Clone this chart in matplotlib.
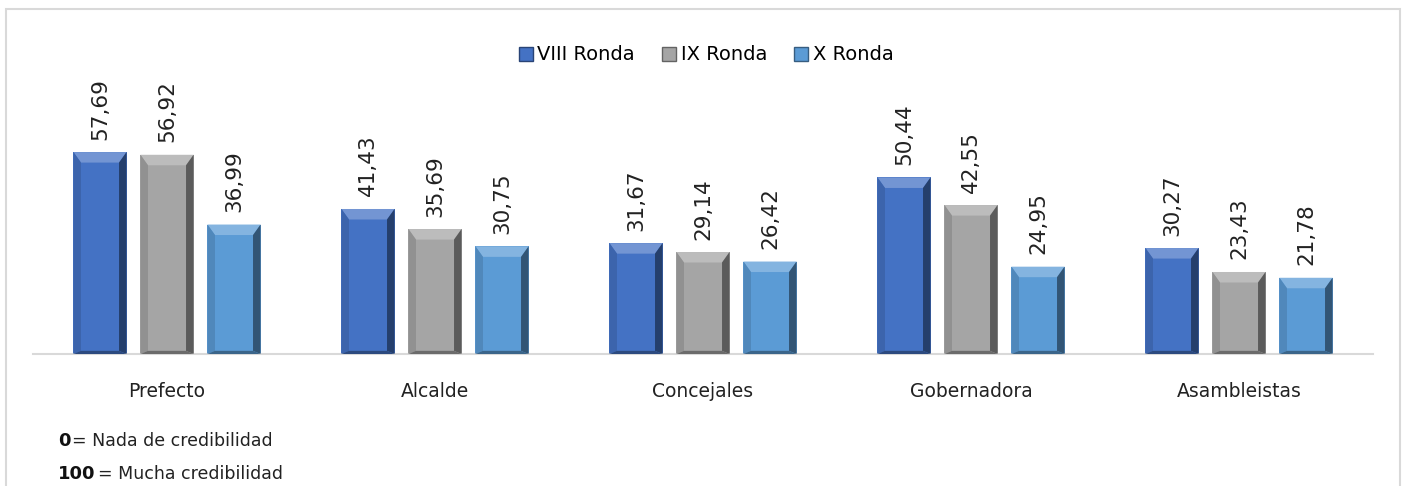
import matplotlib
matplotlib.use('Agg')
import matplotlib.pyplot as plt
import matplotlib.colors as mcolors
from matplotlib.patches import Polygon, Rectangle
from matplotlib.lines import Line2D
import numpy as np

categories = ['Prefecto', 'Alcalde', 'Concejales', 'Gobernadora', 'Asambleistas']
series_names = ['VIII Ronda', 'IX Ronda', 'X Ronda']
viii_ronda = [57.69, 41.43, 31.67, 50.44, 30.27]
ix_ronda = [56.92, 35.69, 29.14, 42.55, 23.43]
x_ronda = [36.99, 30.75, 26.42, 24.95, 21.78]
note_lines = [('0', '= Nada de credibilidad'), ('100', '= Mucha credibilidad')]

colors = ['#4472C4', '#A5A5A5', '#5B9BD5']


def shade(color, amount):
    """amount > 0 -> towards white, < 0 -> towards black"""
    c = np.array(mcolors.to_rgb(color))
    if amount > 0:
        return tuple(c + (1 - c) * amount)
    return tuple(c * (1 + amount))


def bevel(ax, rect, color, bx=0.028, by=3.0):
    x0, y0 = rect.get_x(), rect.get_y()
    w, h = rect.get_width(), rect.get_height()
    x1, y1 = x0 + w, y0 + h
    top = [(x0, y1), (x1, y1), (x1 - bx, y1 - by), (x0 + bx, y1 - by)]
    right = [(x1, y1), (x1, y0), (x1 - bx, y0 + by * 0.3), (x1 - bx, y1 - by)]
    left = [(x0, y1), (x0, y0), (x0 + bx, y0 + by * 0.3), (x0 + bx, y1 - by)]
    bottom = [(x0, y0), (x1, y0), (x1 - bx, y0 + by * 0.3), (x0 + bx, y0 + by * 0.3)]
    ax.add_patch(Polygon(top, closed=True, facecolor=shade(color, 0.25), edgecolor='none', zorder=3))
    ax.add_patch(Polygon(right, closed=True, facecolor=shade(color, -0.45), edgecolor='none', zorder=3))
    ax.add_patch(Polygon(left, closed=True, facecolor=shade(color, -0.12), edgecolor='none', zorder=3))
    ax.add_patch(Polygon(bottom, closed=True, facecolor=shade(color, -0.35), edgecolor='none', zorder=3))


def main():
    fig = plt.figure(figsize=(14.05, 4.86), dpi=100)
    fig.patch.set_facecolor('white')

    # outer frame of the chart area
    fig.patches.append(Rectangle((6 / 1405, -0.05), 1394 / 1405, 1.05 - 9 / 486,
                                 transform=fig.transFigure, fill=False,
                                 edgecolor='#d9d9d9', linewidth=1.5))

    ax = fig.add_axes([33 / 1405, 1 - 354 / 486, 1340 / 1405, 280 / 486])

    x = np.arange(len(categories))
    width = 0.198
    step = 0.25
    all_series = [viii_ronda, ix_ronda, x_ronda]

    for i, vals in enumerate(all_series):
        bars = ax.bar(x + (i - 1) * step, vals, width, color=colors[i], zorder=2)
        for rect, v in zip(bars, vals):
            bevel(ax, rect, colors[i])
            ax.annotate(f'{v:.2f}'.replace('.', ','),
                        xy=(rect.get_x() + rect.get_width() / 2, rect.get_height()),
                        xytext=(0, 9), textcoords='offset points',
                        rotation=90, ha='center', va='bottom',
                        fontsize=15.5, color='#222222')

    ax.set_xlim(-0.5, len(categories) - 0.5)
    ax.set_ylim(0, 80)
    ax.set_xticks(x)
    ax.set_xticklabels(categories, fontsize=13.5, color='#222222')
    ax.tick_params(axis='x', length=0, pad=20)
    ax.set_yticks([])
    for s in ['top', 'right', 'left']:
        ax.spines[s].set_visible(False)
    ax.spines['bottom'].set_color('#d9d9d9')
    ax.spines['bottom'].set_linewidth(1.5)

    handles = [Line2D([], [], marker='s', linestyle='none', markersize=10,
                      markerfacecolor=c, markeredgecolor=shade(c, -0.4))
               for c in colors]
    fig.legend(handles, series_names, loc='center', bbox_to_anchor=(0.502, 1 - 55 / 486),
               ncol=3, frameon=False, fontsize=14, handletextpad=0.15,
               columnspacing=1.3, handlelength=0.9)

    # scale note
    for (num, txt), ypix in zip(note_lines, [441, 474]):
        t = fig.text(58 / 1405, 1 - ypix / 486, num, fontsize=13, fontweight='bold',
                     va='center', ha='left', color='#111111')
        fig.canvas.draw()
        bb = t.get_window_extent()
        fig.text((bb.x1 + 2) / 1405, 1 - ypix / 486, txt, fontsize=12.5,
                 va='center', ha='left', color='#222222')

    fig.savefig('out.png', dpi=100)


if __name__ == '__main__':
    main()
